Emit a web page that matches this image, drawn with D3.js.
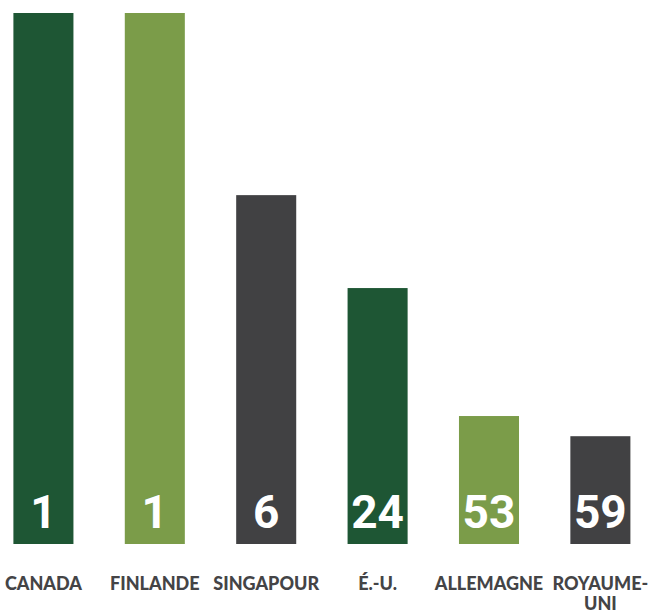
<!DOCTYPE html>
<html>
<head>
<meta charset="utf-8">
<script src="https://cdn.jsdelivr.net/npm/d3@7/dist/d3.min.js"></script>
<style>
  html, body { margin: 0; padding: 0; background: #ffffff; }
  svg { display: block; }
</style>
</head>
<body>
<div id="chart"></div>
<script>
// ---- data ----
const categories = ["CANADA", "FINLANDE", "SINGAPOUR", "É.-U.", "ALLEMAGNE", "ROYAUME-UNI"];
const ranks = [1, 1, 6, 24, 53, 59];
const scores = [100, 100, 65.7, 48.2, 24.1, 20.3];
const barColors = ["#1e5634", "#7b9c49", "#414143", "#1e5634", "#7b9c49", "#414143"];

// ---- layout ----
const W = 661, H = 611;
const svg = d3.select("#chart").append("svg").attr("width", W).attr("height", H);

const x = d3.scaleBand()
  .domain(categories)
  .range([13.4, 630.4])
  .paddingInner(0.461)
  .paddingOuter(0);

const y = d3.scaleLinear().domain([0, 100]).range([544, 13]);

const data = categories.map((c, i) => ({ cat: c, rank: ranks[i], score: scores[i], color: barColors[i] }));

svg.selectAll("rect.bar")
  .data(data)
  .join("rect")
  .attr("class", "bar")
  .attr("x", d => x(d.cat))
  .attr("y", d => y(d.score))
  .attr("width", x.bandwidth())
  .attr("height", d => y(0) - y(d.score))
  .attr("fill", d => d.color);

svg.selectAll("text.rank")
  .data(data)
  .join("text")
  .attr("class", "rank")
  .attr("x", d => x(d.cat) + x.bandwidth() / 2)
  .attr("y", y(0) - 16)
  .attr("text-anchor", "middle")
  .attr("fill", "#ffffff")
  .style("font-family", "Roboto, 'Open Sans', sans-serif")
  .style("font-weight", "700")
  .style("font-size", "46px")
  .text(d => d.rank);

// category labels, wrapped after hyphen when too wide
const labels = svg.selectAll("text.cat")
  .data(data)
  .join("text")
  .attr("class", "cat")
  .attr("text-anchor", "middle")
  .attr("fill", "#444446")
  .style("font-family", "Lato, 'Open Sans', sans-serif")
  .style("font-weight", "900")
  .style("font-size", "18px")
  .attr("transform", d => `translate(${x(d.cat) + x.bandwidth() / 2},590)`);

labels.each(function(d) {
  const t = d3.select(this);
  t.text(d.cat);
  if (this.getComputedTextLength() > x.step() && d.cat.includes("-")) {
    t.text(null);
    const idx = d.cat.indexOf("-");
    const parts = [d.cat.slice(0, idx + 1), d.cat.slice(idx + 1)];
    parts.forEach((p, i) => {
      t.append("tspan").attr("x", 0).attr("dy", i === 0 ? 0 : 20).text(p);
    });
  }
});
</script>
</body>
</html>
